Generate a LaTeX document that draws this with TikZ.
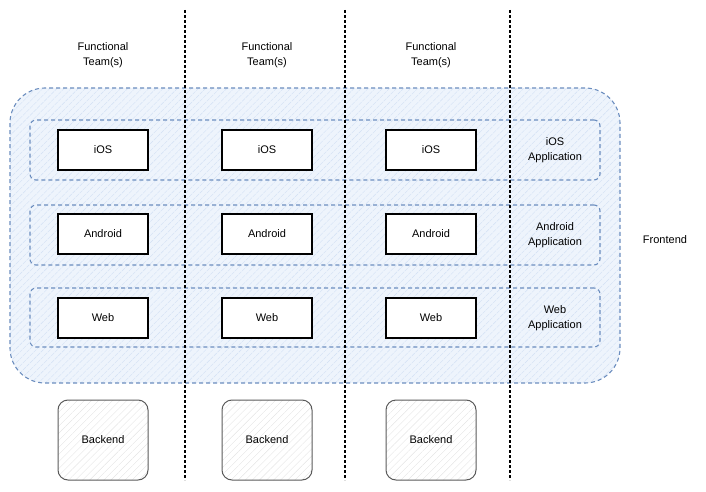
\documentclass[tikz,border=0pt]{standalone}
\usepackage{fontspec}
\setmainfont{Liberation Sans}
\usepackage{xcolor}
\usepackage{tikz}
\usetikzlibrary{
    positioning,
    fit,
    patterns.meta,
    backgrounds
}
\definecolor{frontblue}{HTML}{6C8EBF}
\definecolor{frontfill}{HTML}{EEF4FC}
\definecolor{hatchblue}{HTML}{D2E0F4}
\definecolor{backgray}{HTML}{5A5A5A}
\definecolor{hatchgray}{HTML}{E4E4E4}
\tikzset{
    teambox/.style={
        rectangle, draw=black, line width=1.2pt, fill=white,
        minimum width=90pt, minimum height=40pt,
        font=\fontsize{11}{13}\selectfont
    },
    rowbox/.style={
        rectangle, draw=frontblue, line width=1.1pt, dash pattern=on 4pt off 3pt,
        rounded corners=6pt, preaction={fill=frontfill},
        pattern={Lines[angle=45, distance=5pt, line width=0.4pt]}, pattern color=hatchblue,
        minimum width=570pt
    },
    frontbox/.style={
        rectangle, draw=frontblue, line width=1.1pt, dash pattern=on 4pt off 3pt,
        rounded corners=35pt, preaction={fill=frontfill},
        pattern={Lines[angle=45, distance=5pt, line width=0.4pt]}, pattern color=hatchblue,
        minimum width=610pt, minimum height=295pt
    },
    backbox/.style={
        rectangle, draw=backgray, line width=1pt, rounded corners=10pt,
        pattern={Lines[angle=45, distance=5pt, line width=0.4pt]}, pattern color=hatchgray,
        minimum width=90pt, minimum height=80pt,
        font=\fontsize{11}{13}\selectfont
    },
    label_text/.style={
        align=center, font=\fontsize{11}{15}\selectfont
    },
    team_line/.style={
        draw=black, line width=1.2pt, dash pattern=on 3pt off 2pt
    }
}

\begin{document}
\begin{tikzpicture}[x=1pt, y=-1pt]
    \useasboundingbox (0,0) rectangle (706,492);

    % FRONTEND ZONE
    \node[frontbox] (frontend) at (315,235.5) {};
    \node[label_text] (frontend_label) at (665,240) {Frontend};

    % PLATFORM ROWS
    \node[rowbox, minimum height=60pt] (ios_row) at (315,150) {};
    \node[rowbox, minimum height=60pt] (android_row) at (315,235) {};
    \node[rowbox, minimum height=59pt] (web_row) at (315,317.5) {};

    % HEADERS
    \node[label_text] (team_a) at (103,55) {Functional\\Team(s)};
    \node[label_text] (team_b) at (267,55) {Functional\\Team(s)};
    \node[label_text] (team_c) at (431,55) {Functional\\Team(s)};

    % iOS
    \node[teambox] (ios_a) at (103,150) {iOS};
    \node[teambox] (ios_b) at (267,150) {iOS};
    \node[teambox] (ios_c) at (431,150) {iOS};
    \node[label_text] (ios_app) at (555,150) {iOS\\Application};

    % Android
    \node[teambox] (android_a) at (103,234) {Android};
    \node[teambox] (android_b) at (267,234) {Android};
    \node[teambox] (android_c) at (431,234) {Android};
    \node[label_text] (android_app) at (555,235) {Android\\Application};

    % Web
    \node[teambox] (web_a) at (103,318) {Web};
    \node[teambox] (web_b) at (267,318) {Web};
    \node[teambox] (web_c) at (431,318) {Web};
    \node[label_text] (web_app) at (555,318) {Web\\Application};

    % Backends
    \node[backbox] (backend_a) at (103,440) {Backend};
    \node[backbox] (backend_b) at (267,440) {Backend};
    \node[backbox] (backend_c) at (431,440) {Backend};

    % Team separators
    \coordinate (sep_a_top) at (185,10);
    \coordinate (sep_a_bottom) at (185,480);
    \coordinate (sep_b_top) at (345,10);
    \coordinate (sep_b_bottom) at (345,480);
    \coordinate (sep_c_top) at (510,10);
    \coordinate (sep_c_bottom) at (510,480);
    \draw[team_line] (sep_a_top) -- (sep_a_bottom);
    \draw[team_line] (sep_b_top) -- (sep_b_bottom);
    \draw[team_line] (sep_c_top) -- (sep_c_bottom);

\end{tikzpicture}
\end{document}
